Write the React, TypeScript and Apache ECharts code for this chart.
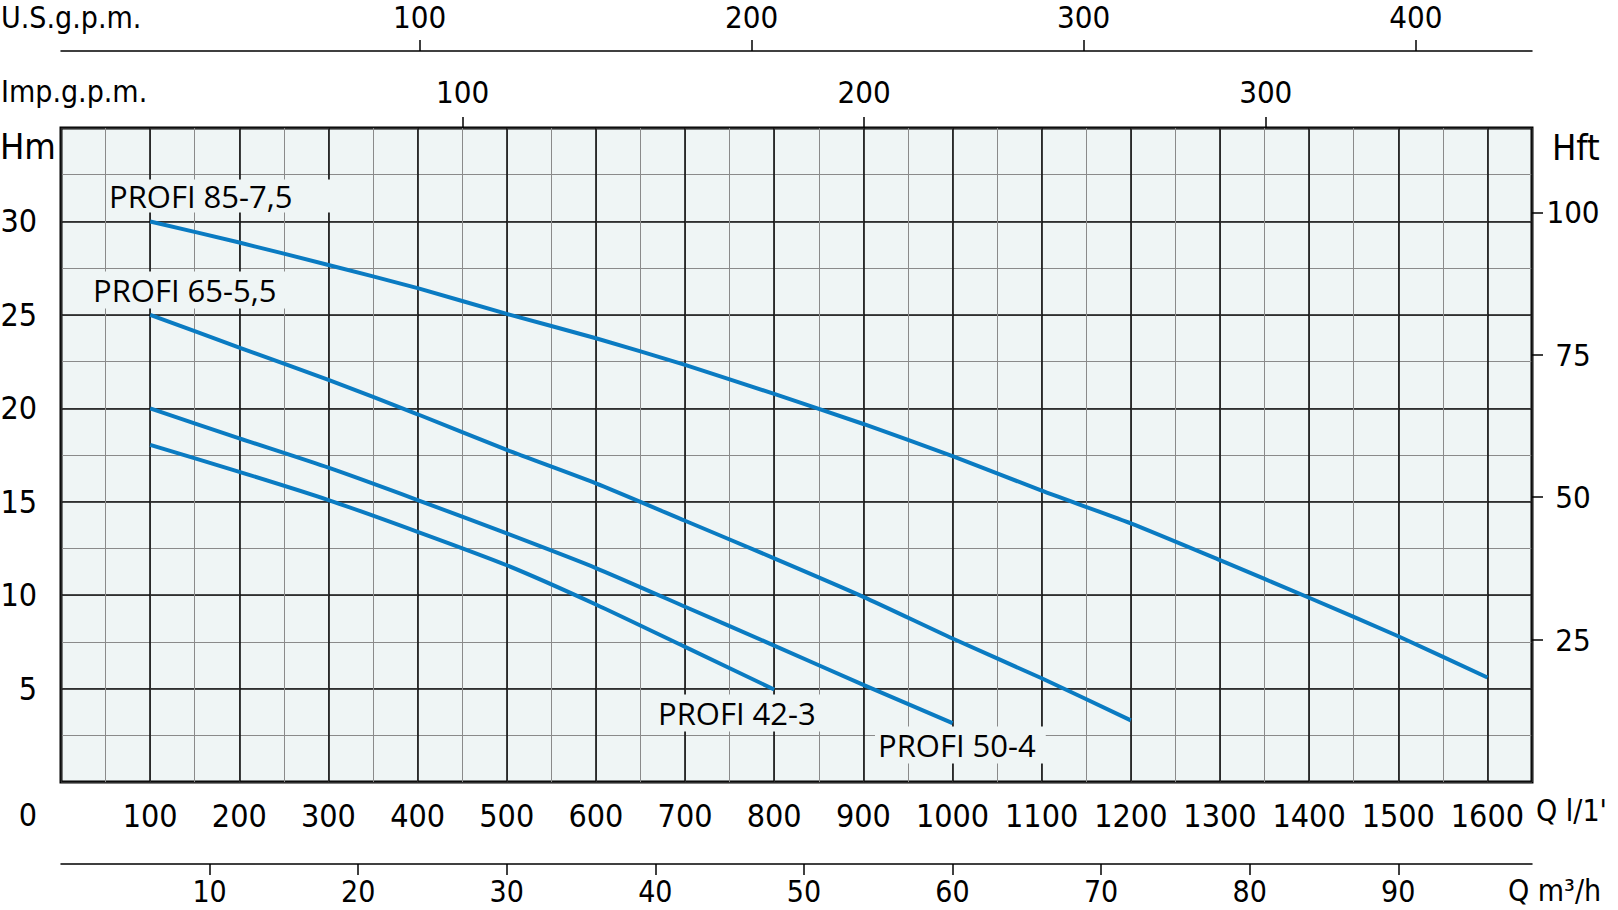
import React, { useEffect, useRef } from 'react';
import * as echarts from 'echarts';

// Flow in l/min (Q l/1') and head in metres for each pump curve
const q85 = [100, 200, 300, 400, 500, 600, 700, 800, 900, 1000, 1100, 1200, 1300, 1400, 1500, 1600];
const h85 = [30.0, 28.87, 27.67, 26.43, 25.05, 23.75, 22.32, 20.77, 19.16, 17.44, 15.59, 13.84, 11.87, 9.86, 7.8, 5.59];

const q65 = [100, 200, 300, 400, 500, 600, 700, 800, 900, 1000, 1100, 1200];
const h65 = [25.0, 23.25, 21.52, 19.68, 17.77, 15.98, 13.98, 11.97, 9.91, 7.68, 5.55, 3.3];

const q50 = [100, 200, 300, 400, 500, 600, 700, 800, 900, 1000];
const h50 = [20.0, 18.39, 16.82, 15.09, 13.3, 11.45, 9.38, 7.3, 5.2, 3.15];

const q42 = [100, 200, 300, 400, 500, 600, 700, 800];
const h42 = [18.04, 16.6, 15.09, 13.39, 11.6, 9.5, 7.23, 4.95];

const seriesNames = ['PROFI 85-7,5', 'PROFI 65-5,5', 'PROFI 50-4', 'PROFI 42-3'];

// Axis ranges and tick labels
const qMax = 1650; // l/min
const hMax = 35; // m
const m3hTicks = [10, 20, 30, 40, 50, 60, 70, 80, 90];
const m3hMax = 99;
const impTicks = [100, 200, 300];
const impMax = 366.3;
const usTicks = [100, 200, 300, 400];
const usMin = -8;
const usMax = 435;
const ftTicks = [25, 50, 75, 100];
const ftMax = 35 * 3.28084;

const NUM_FONT = "'DejaVu Sans Condensed', 'Liberation Sans Narrow', sans-serif";
const LABEL_FONT = "'Open Sans', 'Noto Sans', sans-serif";
const CURVE = '#0a7bc2';
const PLOT_BG = '#eff5f5';

function pairs(q: number[], h: number[]) {
  return q.map((x, i) => [x, h[i]]);
}

export default function App() {
  const ref = useRef<HTMLDivElement>(null);
  useEffect(() => {
    document.body.style.margin = '0';
    const chart = echarts.init(ref.current!, undefined, { renderer: 'svg' });
    const numLabel = { fontFamily: NUM_FONT, color: '#000' };
    const curveLabel = (text: string, x: number, y: number, padding: number[]) => ({
      type: 'text',
      x,
      y,
      z: 10,
      style: {
        text,
        fill: '#000',
        font: `31px ${LABEL_FONT}`,
        verticalAlign: 'middle',
        backgroundColor: PLOT_BG,
        padding,
        lineHeight: 31,
      },
    });
    const titleText = (text: string, x: number, y: number, size: number, align = 'left') => ({
      type: 'text',
      x,
      y,
      z: 10,
      style: {
        text, fill: '#000', font: `${size}px ${NUM_FONT}`, verticalAlign: 'middle', align, lineHeight: size,
      },
    });
    const option: any = {
      animation: false,
      backgroundColor: '#fff',
      grid: {
        left: 61,
        right: 86,
        top: 128,
        bottom: 128,
        show: true,
        containLabel: false,
        outerBoundsMode: 'none',
        backgroundColor: PLOT_BG,
        borderColor: '#000',
        borderWidth: 3,
      },
      xAxis: [
        {
          type: 'value', min: 0, max: qMax, interval: 50, position: 'bottom',
          axisLine: { show: false, onZero: false }, axisTick: { show: false }, axisLabel: { show: false },
          splitLine: { show: true, lineStyle: { color: '#8a8a8a', width: 1 } },
        },
        {
          type: 'value', min: 0, max: qMax, interval: 100, position: 'bottom',
          axisLine: { show: false, onZero: false }, axisTick: { show: false },
          axisLabel: {
            ...numLabel, fontSize: 32, lineHeight: 32, margin: 34, verticalAlign: 'middle',
            formatter: (v: number) => (v > 0 && v <= 1600 ? String(v) : ''),
          },
          splitLine: { show: true, lineStyle: { color: '#111', width: 1.6 } },
        },
        {
          type: 'value', min: 0, max: m3hMax, position: 'bottom', offset: 82,
          axisLine: { show: true, onZero: false, lineStyle: { color: '#000', width: 1.5 } },
          axisTick: { show: true, length: 11, customValues: m3hTicks, lineStyle: { color: '#000', width: 1.5 } },
          axisLabel: {
            ...numLabel, fontSize: 30, lineHeight: 30, margin: 27, verticalAlign: 'middle', customValues: m3hTicks,
          },
          splitLine: { show: false },
        },
        {
          type: 'value', min: 0, max: impMax, position: 'top', offset: 0,
          axisLine: { show: false, onZero: false },
          axisTick: { show: true, length: 11, customValues: impTicks, lineStyle: { color: '#000', width: 1.5 } },
          axisLabel: {
            ...numLabel, fontSize: 31, lineHeight: 31, margin: 36, verticalAlign: 'middle', customValues: impTicks,
          },
          splitLine: { show: false },
        },
        {
          type: 'value', min: usMin, max: usMax, position: 'top', offset: 77,
          axisLine: { show: true, onZero: false, lineStyle: { color: '#000', width: 1.5 } },
          axisTick: { show: true, length: 11, customValues: usTicks, lineStyle: { color: '#000', width: 1.5 } },
          axisLabel: {
            ...numLabel, fontSize: 31, lineHeight: 31, margin: 34, verticalAlign: 'middle', customValues: usTicks,
          },
          splitLine: { show: false },
        },
      ],
      yAxis: [
        {
          type: 'value', min: 0, max: hMax, interval: 2.5, position: 'left',
          axisLine: { show: false, onZero: false }, axisTick: { show: false }, axisLabel: { show: false },
          splitLine: { show: true, lineStyle: { color: '#8a8a8a', width: 1 } },
        },
        {
          type: 'value', min: 0, max: hMax, interval: 5, position: 'left',
          axisLine: { show: false, onZero: false }, axisTick: { show: false },
          axisLabel: {
            ...numLabel, fontSize: 32, margin: 24, align: 'right',
            formatter: (v: number) => (v > 0 && v < hMax ? String(v) : ''),
          },
          splitLine: { show: true, lineStyle: { color: '#111', width: 1.6 } },
        },
        {
          type: 'value', min: 0, max: ftMax, position: 'right',
          axisLine: { show: false, onZero: false },
          axisTick: { show: true, length: 11, customValues: ftTicks, lineStyle: { color: '#000', width: 1.5 } },
          axisLabel: { ...numLabel, fontSize: 31, margin: 41, align: 'center', customValues: ftTicks },
          splitLine: { show: false },
        },
      ],
      series: [
        [q85, h85],
        [q65, h65],
        [q50, h50],
        [q42, h42],
      ].map(([q, h], i) => ({
        name: seriesNames[i],
        type: 'line',
        xAxisIndex: 1,
        yAxisIndex: 1,
        data: pairs(q, h),
        showSymbol: false,
        smooth: 0.2,
        lineStyle: { color: CURVE, width: 4 },
        z: 5,
      })),
      graphic: [
        curveLabel(seriesNames[0], 106, 196, [1, 38, 1, 3]),
        curveLabel(seriesNames[1], 90, 290, [3, 10, 3, 3]),
        curveLabel(seriesNames[3], 655, 713, [3, 6, 3, 3]),
        curveLabel(seriesNames[2], 875, 745, [3, 10, 3, 3]),
        titleText('Hm', 0, 146, 36),
        titleText('Hft', 1552, 147, 36),
        titleText('U.S.g.p.m.', 1, 17, 30),
        titleText('Imp.g.p.m.', 1, 91, 30),
        titleText('0', 37, 815, 32, 'right'),
        titleText("Q l/1'", 1536, 810, 30),
        titleText('Q m³/h', 1508, 890, 30),
      ],
    };
    chart.setOption(option);
    return () => chart.dispose();
  }, []);
  return <div ref={ref} style={{ width: 1618, height: 910 }} />;
}
